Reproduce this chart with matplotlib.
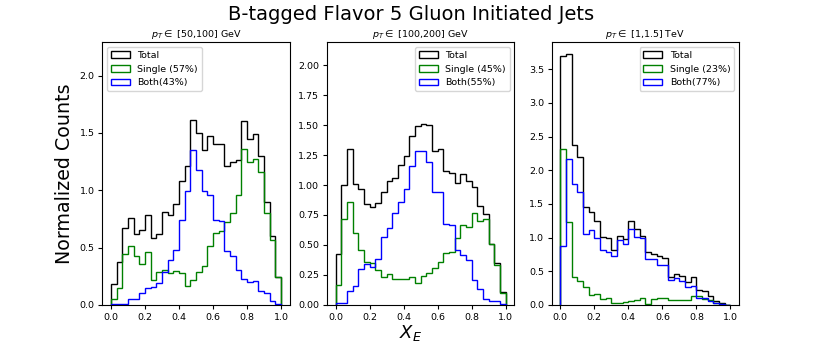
import numpy as np
import matplotlib
matplotlib.use("Agg")
from matplotlib import pyplot as plt

# Bin edges: 30 equal bins on [0, 1]
edges = np.linspace(0.0, 1.0, 31)
centers = 0.5 * (edges[:-1] + edges[1:])

# Panel 1: pT in [50,100] GeV
total_1 = [0.18, 0.375, 0.67, 0.76, 0.62, 0.65, 0.78, 0.58, 0.62, 0.81,
           0.78, 0.88, 1.08, 1.21, 1.61, 1.50, 1.35, 1.47, 1.40, 1.40,
           1.21, 1.25, 1.26, 1.60, 1.45, 1.49, 1.30, 0.90, 0.60, 0.24]
single_1 = [0.05, 0.15, 0.44, 0.51, 0.43, 0.36, 0.46, 0.215, 0.285, 0.305,
            0.28, 0.30, 0.28, 0.165, 0.215, 0.29, 0.34, 0.51, 0.63, 0.645,
            0.72, 0.80, 0.96, 1.36, 1.25, 1.27, 1.16, 0.80, 0.57, 0.24]
both_1 = [0.005, 0.005, 0.005, 0.05, 0.05, 0.10, 0.15, 0.16, 0.19, 0.29,
          0.39, 0.48, 0.74, 0.99, 1.35, 1.18, 0.99, 0.96, 0.74, 0.73,
          0.47, 0.43, 0.305, 0.23, 0.20, 0.21, 0.12, 0.10, 0.03, 0.01]

# Panel 2: pT in [100,200] GeV
total_2 = [0.425, 1.00, 1.30, 1.01, 0.97, 0.84, 0.82, 0.85, 0.94, 1.03,
           1.06, 1.17, 1.24, 1.41, 1.49, 1.51, 1.50, 1.28, 1.30, 1.12,
           1.10, 1.02, 1.09, 1.03, 0.98, 0.825, 0.76, 0.51, 0.35, 0.11]
single_2 = [0.17, 0.72, 0.86, 0.60, 0.46, 0.36, 0.35, 0.29, 0.23, 0.26,
            0.22, 0.22, 0.22, 0.23, 0.18, 0.24, 0.27, 0.31, 0.36, 0.43,
            0.44, 0.555, 0.67, 0.65, 0.77, 0.70, 0.72, 0.51, 0.33, 0.10]
both_2 = [0.02, 0.02, 0.12, 0.16, 0.30, 0.34, 0.32, 0.38, 0.57, 0.645,
          0.77, 0.86, 0.97, 1.16, 1.28, 1.28, 1.19, 0.94, 0.94, 0.675,
          0.67, 0.46, 0.42, 0.375, 0.21, 0.13, 0.05, 0.03, 0.03, 0.01]

# Panel 3: pT in [1,1.5] TeV
total_3 = [3.70, 3.73, 2.37, 2.19, 1.46, 1.38, 1.24, 1.01, 0.99, 0.82,
           1.03, 0.98, 1.25, 1.13, 1.02, 0.79, 0.76, 0.73, 0.70, 0.42,
           0.46, 0.43, 0.345, 0.41, 0.225, 0.20, 0.135, 0.065, 0.03, 0.005]
single_3 = [2.32, 1.23, 0.41, 0.36, 0.265, 0.145, 0.16, 0.09, 0.10, 0.035,
            0.035, 0.04, 0.065, 0.075, 0.11, 0.02, 0.085, 0.11, 0.10, 0.075,
            0.08, 0.075, 0.075, 0.13, 0.13, 0.09, 0.075, 0.035, 0.02, 0.002]
both_3 = [0.88, 2.17, 1.80, 1.67, 1.05, 1.12, 1.00, 0.82, 0.79, 0.72,
          0.96, 0.90, 1.13, 1.01, 1.00, 0.68, 0.68, 0.60, 0.60, 0.37,
          0.40, 0.35, 0.27, 0.28, 0.10, 0.11, 0.065, 0.035, 0.015, 0.005]

panel_titles = [r"$p_T\in$ [50,100] GeV", r"$p_T\in$ [100,200] GeV", r"$p_T\in$ [1,1.5] TeV"]
single_labels = ["Single (57%)", "Single (45%)", "Single (23%)"]
both_labels = ["Both(43%)", "Both(55%)", "Both(77%)"]
legend_locs = ["upper left", "upper right", "upper right"]
y_tops = [2.29, 2.19, 3.90]
y_ticks = [np.arange(0, 2.01, 0.5), np.arange(0, 2.01, 0.25), np.arange(0, 3.51, 0.5)]
y_fmt = ["%.1f", "%.2f", "%.1f"]

totals = [total_1, total_2, total_3]
singles = [single_1, single_2, single_3]
boths = [both_1, both_2, both_3]

fig, axes = plt.subplots(1, 3, figsize=(8.22, 3.43), dpi=100)
fig.subplots_adjust(left=0.1245, right=0.899, top=0.8767, bottom=0.111, wspace=0.2)

for i, ax in enumerate(axes):
    ax.hist(centers, bins=edges, weights=totals[i], histtype="step", color="k", lw=1.0, label="Total")
    ax.hist(centers, bins=edges, weights=singles[i], histtype="step", color="g", lw=1.0, label=single_labels[i])
    ax.hist(centers, bins=edges, weights=boths[i], histtype="step", color="b", lw=1.0, label=both_labels[i])
    ax.set_xlim(-0.05, 1.05)
    ax.set_ylim(0, y_tops[i])
    ax.set_xticks(np.arange(0, 1.01, 0.2))
    ax.set_yticks(y_ticks[i])
    ax.yaxis.set_major_formatter(matplotlib.ticker.FormatStrFormatter(y_fmt[i]))
    ax.tick_params(labelsize=6.8, length=3, width=0.8, pad=2.5)
    ax.set_title(panel_titles[i], fontsize=6.8, pad=4)
    ax.legend(loc=legend_locs[i], fontsize=6.8)

axes[0].set_ylabel("Normalized Counts", fontsize=13.7, labelpad=4)
fig.text(0.5, 0.0, "$X_E$", fontsize=13, ha="center", va="bottom")
fig.suptitle("B-tagged Flavor 5 Gluon Initiated Jets", fontsize=14, y=0.985)

plt.savefig("out.png", dpi=100)
